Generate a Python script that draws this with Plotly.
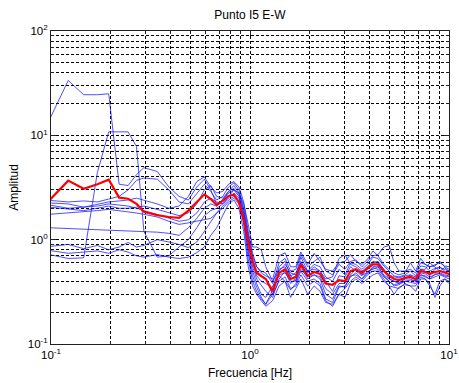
import plotly.graph_objects as go

# Frequency grid shared by all station records [Hz]
freq = [0.098, 0.122, 0.146, 0.171, 0.195, 0.220, 0.244, 0.269, 0.293, 0.342,
        0.391, 0.44, 0.49, 0.54, 0.59, 0.635, 0.68, 0.73, 0.78, 0.83,
        0.88, 0.93, 0.98, 1.03, 1.08, 1.14, 1.2, 1.3, 1.4, 1.5,
        1.6, 1.7, 1.8, 1.95, 2.1, 2.25, 2.4, 2.6, 2.8, 3.0,
        3.2, 3.4, 3.65, 3.9, 4.15, 4.4, 4.7, 5.0, 5.3, 5.6,
        6.0, 6.4, 6.8, 7.2, 7.6, 8.0, 8.5, 9.0, 9.5, 10.0]

# Individual H/V amplitude ratios (E-W component)
rec_01 = [14, 33.5, 24.5, 24.5, 25, 3.4, 3.3, 4.2, 4.9, 4.5,
          3.2, 2.6, 2.4, 3.2, 3.8, 3.0, 2.2, 2.4, 2.9, 3.3,
          2.8, 1.9, 1.0, 0.62, 0.45, 0.40, 0.38, 0.34, 0.55, 0.62,
          0.45, 0.40, 0.62, 0.48, 0.55, 0.50, 0.40, 0.32, 0.45, 0.44,
          0.55, 0.50, 0.45, 0.55, 0.62, 0.60, 0.52, 0.42, 0.40, 0.38,
          0.42, 0.46, 0.40, 0.52, 0.50, 0.45, 0.52, 0.55, 0.50, 0.46]
rec_02 = [0.72, 0.66, 0.67, 4.4, 10.8, 10.8, 10.8, 7.8, 1.2, 0.68,
          0.70, 0.85, 1.0, 1.3, 1.7, 1.9, 2.0, 2.2, 2.6, 3.0,
          2.6, 1.6, 0.8, 0.5, 0.38, 0.30, 0.28, 0.36, 0.45, 0.40,
          0.33, 0.38, 0.50, 0.40, 0.42, 0.38, 0.27, 0.25, 0.35, 0.36,
          0.44, 0.48, 0.42, 0.50, 0.52, 0.55, 0.45, 0.40, 0.36, 0.37,
          0.40, 0.39, 0.38, 0.46, 0.44, 0.42, 0.44, 0.46, 0.44, 0.42]
rec_03 = [2.38, 2.3, 2.35, 2.3, 2.45, 2.6, 3.0, 3.7, 3.9, 3.8,
          3.0, 2.3, 2.2, 2.8, 3.4, 2.9, 2.4, 2.6, 3.2, 3.5,
          3.0, 2.0, 1.1, 0.65, 0.50, 0.45, 0.42, 0.30, 0.50, 0.58,
          0.48, 0.46, 0.68, 0.50, 0.58, 0.55, 0.44, 0.40, 0.52, 0.46,
          0.60, 0.58, 0.52, 0.58, 0.68, 0.66, 0.56, 0.50, 0.45, 0.44,
          0.46, 0.50, 0.45, 0.56, 0.55, 0.50, 0.53, 0.54, 0.52, 0.50]
rec_04 = [2.25, 2.2, 2.05, 2.1, 2.2, 2.15, 2.1, 2.0, 1.9, 1.75,
          1.6, 1.5, 1.55, 1.8, 2.3, 2.5, 2.3, 2.2, 2.5, 2.8,
          2.5, 1.7, 0.9, 0.55, 0.42, 0.36, 0.32, 0.28, 0.42, 0.50,
          0.38, 0.42, 0.55, 0.42, 0.46, 0.44, 0.34, 0.30, 0.38, 0.38,
          0.46, 0.52, 0.46, 0.48, 0.55, 0.56, 0.46, 0.42, 0.40, 0.39,
          0.42, 0.42, 0.40, 0.48, 0.47, 0.44, 0.46, 0.48, 0.46, 0.45]
rec_05 = [2.05, 1.95, 1.9, 2.0, 2.1, 2.0, 2.0, 2.05, 2.1, 1.95,
          1.8, 1.7, 1.8, 2.2, 3.0, 3.3, 2.6, 2.5, 2.9, 3.1,
          2.7, 1.8, 1.05, 0.70, 0.55, 0.50, 0.48, 0.38, 0.60, 0.66,
          0.50, 0.52, 0.72, 0.55, 0.62, 0.68, 0.50, 0.46, 0.58, 0.52,
          0.62, 0.64, 0.55, 0.62, 0.70, 0.72, 0.85, 0.88, 0.60, 0.50,
          0.50, 0.52, 0.48, 0.60, 0.58, 0.55, 0.58, 0.60, 0.56, 0.55]
rec_06 = [1.75, 1.8, 1.85, 1.9, 1.95, 1.9, 1.85, 1.8, 1.75, 1.65,
          1.5, 1.4, 1.45, 1.5, 1.55, 1.6, 1.8, 2.0, 2.3, 2.5,
          2.2, 1.5, 0.75, 0.45, 0.35, 0.28, 0.24, 0.30, 0.40, 0.44,
          0.34, 0.36, 0.46, 0.36, 0.40, 0.36, 0.26, 0.23, 0.30, 0.34,
          0.40, 0.44, 0.40, 0.46, 0.50, 0.50, 0.42, 0.36, 0.35, 0.34,
          0.38, 0.36, 0.36, 0.44, 0.42, 0.36, 0.30, 0.40, 0.42, 0.40]
rec_07 = [1.3, 1.28, 1.26, 1.25, 1.24, 1.23, 1.22, 1.21, 1.2, 1.18,
          1.15, 1.1, 1.3, 1.6, 2.0, 2.2, 2.1, 2.4, 2.8, 3.0,
          2.8, 2.2, 1.4, 0.85, 0.85, 0.80, 0.55, 0.40, 0.52, 0.55,
          0.45, 0.48, 0.60, 0.50, 0.52, 0.50, 0.42, 0.44, 0.66, 0.72,
          0.58, 0.55, 0.50, 0.55, 0.60, 0.62, 0.52, 0.46, 0.44, 0.43,
          0.45, 0.46, 0.44, 0.52, 0.52, 0.60, 0.55, 0.50, 0.54, 0.50]
rec_08 = [0.86, 0.90, 0.82, 0.88, 0.80, 0.85, 0.94, 0.85, 0.88, 1.0,
          0.95, 0.90, 0.84, 0.95, 1.2, 1.5, 1.8, 2.1, 2.4, 2.6,
          2.3, 1.4, 0.65, 0.40, 0.32, 0.27, 0.24, 0.33, 0.46, 0.48,
          0.40, 0.40, 0.52, 0.44, 0.46, 0.42, 0.30, 0.27, 0.36, 0.35,
          0.45, 0.46, 0.42, 0.47, 0.54, 0.52, 0.44, 0.40, 0.37, 0.38,
          0.40, 0.41, 0.40, 0.46, 0.45, 0.42, 0.47, 0.47, 0.45, 0.44]
rec_09 = [0.79, 0.74, 0.76, 0.78, 0.74, 0.80, 0.76, 0.70, 0.68, 0.72,
          0.68, 0.66, 0.68, 0.75, 0.85, 1.1, 1.3, 1.7, 2.2, 2.4,
          2.0, 1.2, 0.55, 0.36, 0.30, 0.26, 0.23, 0.26, 0.36, 0.40,
          0.28, 0.34, 0.42, 0.30, 0.36, 0.32, 0.25, 0.24, 0.30, 0.28,
          0.38, 0.42, 0.38, 0.42, 0.46, 0.48, 0.40, 0.36, 0.30, 0.35,
          0.37, 0.36, 0.32, 0.42, 0.42, 0.38, 0.28, 0.36, 0.42, 0.38]
rec_10 = [2.15, 2.0, 2.05, 2.2, 2.3, 2.35, 2.4, 2.5, 2.4, 2.2,
          2.0, 2.1, 2.6, 3.6, 4.0, 3.2, 2.8, 2.9, 3.4, 3.6,
          3.2, 2.3, 1.2, 0.75, 0.55, 0.48, 0.45, 0.42, 0.70, 0.75,
          0.55, 0.55, 0.76, 0.58, 0.74, 0.62, 0.52, 0.50, 0.60, 0.62,
          0.72, 0.62, 0.58, 0.65, 0.78, 0.70, 0.58, 0.52, 0.48, 0.46,
          0.48, 0.60, 0.50, 0.66, 0.58, 0.55, 0.56, 0.62, 0.55, 0.52]

# Average spectral ratio
mean_hv = [2.38, 3.68, 3.08, 3.4, 3.76, 2.53, 2.47, 2.2, 1.85, 1.72,
           1.65, 1.62, 1.9, 2.3, 2.72, 2.45, 2.15, 2.35, 2.62, 2.70,
           2.3, 1.55, 0.95, 0.62, 0.48, 0.45, 0.42, 0.32, 0.48, 0.52,
           0.42, 0.44, 0.58, 0.45, 0.49, 0.47, 0.38, 0.37, 0.41, 0.40,
           0.50, 0.52, 0.48, 0.53, 0.58, 0.58, 0.50, 0.45, 0.42, 0.41,
           0.43, 0.44, 0.42, 0.50, 0.49, 0.47, 0.49, 0.50, 0.48, 0.47]

records = [rec_01, rec_02, rec_03, rec_04, rec_05,
           rec_06, rec_07, rec_08, rec_09, rec_10]

x_ticks = [0.1, 1, 10]
x_tick_text = ["10<sup>-1</sup>", "10<sup>0</sup>", "10<sup>1</sup>"]
y_ticks = [0.1, 1, 10, 100]
y_tick_text = ["10<sup>-1</sup>", "10<sup>0</sup>", "10<sup>1</sup>", "10<sup>2</sup>"]

FONT = "Liberation Sans, Arial, sans-serif"

fig = go.Figure()
for rec in records:
    fig.add_trace(go.Scatter(
        x=freq, y=rec, mode="lines",
        line=dict(color="rgba(20,20,255,0.75)", width=1),
        showlegend=False, hoverinfo="skip"))
fig.add_trace(go.Scatter(
    x=freq, y=mean_hv, mode="lines",
    line=dict(color="#ff0000", width=2.2),
    showlegend=False))

axis_common = dict(
    type="log", automargin=False,
    showline=True, linecolor="#202020", linewidth=1, mirror="ticks",
    ticks="inside", ticklen=5, tickcolor="#202020",
    showgrid=True, gridcolor="#000000", gridwidth=1, griddash="3px,2px",
    zeroline=False,
    tickfont=dict(family=FONT, size=11.5, color="#000000"),
    minor=dict(dtick="D1", ticks="inside", ticklen=3, tickcolor="#202020",
               showgrid=True, gridcolor="#000000", gridwidth=1, griddash="3px,2px"),
)

fig.update_xaxes(range=[-1, 1], tickmode="array", tickvals=x_ticks, ticktext=x_tick_text,
                 title=dict(text="Frecuencia [Hz]", standoff=8,
                            font=dict(family=FONT, size=12, color="#000000")),
                 **axis_common)
fig.update_yaxes(range=[-1, 2], tickmode="array", tickvals=y_ticks, ticktext=y_tick_text,
                 title=dict(text="Amplitud", standoff=6,
                            font=dict(family=FONT, size=12, color="#000000")),
                 **axis_common)

fig.update_layout(
    width=459, height=383,
    margin=dict(l=51, r=10, t=31, b=39),
    paper_bgcolor="#ffffff", plot_bgcolor="#ffffff",
    title=dict(text="Punto I5 E-W", xref="paper", x=0.5, xanchor="center",
               y=0.961, yanchor="middle",
               font=dict(family=FONT, size=12, color="#000000")),
)

fig.write_html("out.html")
